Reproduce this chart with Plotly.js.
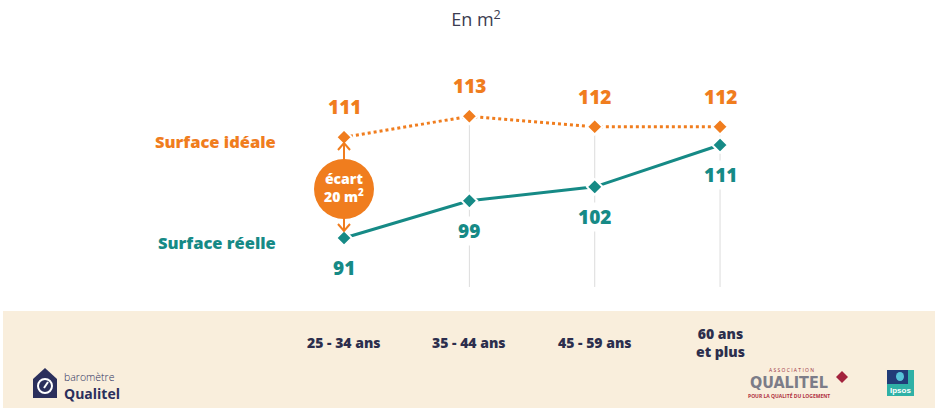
<!DOCTYPE html>
<html>
<head>
<meta charset="utf-8">
<script src="https://cdn.plot.ly/plotly-3.0.1.min.js"></script>
<style>html,body{margin:0;padding:0;background:#fff}#chart{width:935px;height:408px}</style>
</head>
<body>
<div id="chart"></div>
<script>
// ---- data ----
const categories = ['25 - 34 ans', '35 - 44 ans', '45 - 59 ans', '60 ans<br>et plus'];
const surfaceIdeale = [111, 113, 112, 112];
const surfaceReelle = [91, 99, 102, 111];
const seriesNames = ['Surface idéale', 'Surface réelle'];
const ecartText = 'écart<br>20 m<sup>2</sup>';

// ---- styles ----
const W = 935, H = 408;
const ORANGE = '#f07d1e', TEAL = '#168a86', NAVY = '#2c2e4d';
const BOLD = '"Open Sans", "Noto Sans", sans-serif';
const px = x => x / W;
const py = y => 1 - y / H;
function pathPx(pts, close) { return 'M ' + pts.map(p => px(p[0]) + ',' + py(p[1])).join(' L ') + (close === false ? '' : ' Z'); }

const traces = [
  { x: categories, y: surfaceIdeale, yaxis: 'y2', type: 'scatter', mode: 'lines+markers', name: seriesNames[0],
    line: { color: ORANGE, width: 3, dash: 'dot' },
    marker: { symbol: 'diamond', size: 12, color: ORANGE, line: { color: '#fff', width: 2 } }, hoverinfo: 'skip' },
  { x: categories, y: surfaceReelle, yaxis: 'y', type: 'scatter', mode: 'lines+markers', name: seriesNames[1],
    line: { color: TEAL, width: 3 },
    marker: { symbol: 'diamond', size: 12, color: TEAL, line: { color: '#fff', width: 2 } }, hoverinfo: 'skip' }
];

const shapes = [
  // beige footer band
  { type: 'rect', xref: 'paper', yref: 'paper', x0: px(3), x1: 1, y0: 0, y1: py(311), fillcolor: '#f9eedc', line: { width: 0 }, layer: 'below' }
];
// vertical guide lines from ideal marker down
categories.forEach((c, i) => {
  if (i === 0) return;
  shapes.push({ type: 'line', xref: 'x', yref: 'y2', x0: c, x1: c, y0: surfaceIdeale[i], y1: 96.74,
    line: { color: '#dcdcdc', width: 1 }, layer: 'below' });
});
// écart arrows (lines + open chevrons)
const AX = 344;
shapes.push({ type: 'line', xref: 'paper', yref: 'paper', x0: px(AX), x1: px(AX), y0: py(143), y1: py(162), line: { color: ORANGE, width: 2 } });
shapes.push({ type: 'path', xref: 'paper', yref: 'paper', path: pathPx([[AX - 6, 150], [AX, 143], [AX + 6, 150]], false), line: { color: ORANGE, width: 2 } });
shapes.push({ type: 'line', xref: 'paper', yref: 'paper', x0: px(AX), x1: px(AX), y0: py(216), y1: py(231), line: { color: ORANGE, width: 2 } });
shapes.push({ type: 'path', xref: 'paper', yref: 'paper', path: pathPx([[AX - 6, 224], [AX, 231], [AX + 6, 224]], false), line: { color: ORANGE, width: 2 } });
// écart circle
shapes.push({ type: 'circle', xref: 'paper', yref: 'paper', x0: px(314), x1: px(374), y0: py(219), y1: py(159),
  fillcolor: ORANGE, line: { width: 0 } });
// baromètre Qualitel icon
shapes.push({ type: 'path', xref: 'paper', yref: 'paper',
  path: pathPx([[33, 398], [33, 379], [45, 368], [57, 379], [57, 398]]), fillcolor: '#2b2f5c', line: { width: 0 } });
shapes.push({ type: 'circle', xref: 'paper', yref: 'paper', x0: px(38), x1: px(52), y0: py(393), y1: py(379),
  fillcolor: 'rgba(0,0,0,0)', line: { color: '#fff', width: 2 } });
shapes.push({ type: 'line', xref: 'paper', yref: 'paper', x0: px(44), x1: px(48), y0: py(388), y1: py(382),
  line: { color: '#fff', width: 2 } });
// Qualitel diamond
shapes.push({ type: 'path', xref: 'paper', yref: 'paper',
  path: pathPx([[842, 371], [848, 377], [842, 383], [836, 377]]), fillcolor: '#a3233d', line: { width: 0 } });
// Ipsos logo
shapes.push({ type: 'rect', xref: 'paper', yref: 'paper', x0: px(887), x1: px(914), y0: py(396), y1: py(370),
  fillcolor: '#2fb1a6', line: { width: 0 } });
shapes.push({ type: 'rect', xref: 'paper', yref: 'paper', x0: px(887), x1: px(908), y0: py(384), y1: py(370),
  fillcolor: '#213c78', line: { width: 0 } });
shapes.push({ type: 'circle', xref: 'paper', yref: 'paper', x0: px(896), x1: px(904), y0: py(381), y1: py(372),
  fillcolor: '#56c4d8', line: { width: 0 } });

const annotations = [];
function note(x, y, text, font, extra) {
  return Object.assign({ x: px(x), y: py(y), xref: 'paper', yref: 'paper', xanchor: 'center', yanchor: 'middle',
    showarrow: false, text: text, font: font }, extra || {});
}
// value labels and category labels
categories.forEach((c, i) => {
  annotations.push({ x: c, y: surfaceIdeale[i], xref: 'x', yref: 'y2', text: String(surfaceIdeale[i]), showarrow: false,
    yshift: 30, font: { family: BOLD, size: 19, color: ORANGE, weight: 800 } });
  annotations.push({ x: c, y: surfaceReelle[i], xref: 'x', yref: 'y', text: String(surfaceReelle[i]), showarrow: false,
    yshift: -30, bgcolor: '#fff', font: { family: BOLD, size: 19, color: TEAL, weight: 800 } });
  annotations.push({ x: c, y: py(342), xref: 'x', yref: 'paper', text: c, showarrow: false, yanchor: 'middle',
    font: { family: BOLD, size: 14, color: NAVY, weight: 800 } });
});
// series labels
annotations.push(note(278, 141, seriesNames[0], { family: BOLD, size: 16.5, color: ORANGE, weight: 800 }, { xanchor: 'right' }));
annotations.push(note(278, 242, seriesNames[1], { family: BOLD, size: 16.5, color: TEAL, weight: 800 }, { xanchor: 'right' }));
// écart text
annotations.push(note(344, 188, ecartText, { family: BOLD, size: 14, color: '#fff', weight: 800 }));
// logos text
annotations.push(note(62, 386, '<span style="font-size:10.5px;font-weight:300">baromètre</span><br><span style="font-weight:700">Qualitel</span>',
  { family: BOLD, size: 14, color: '#2b2f5c' }, { xanchor: 'left', align: 'left' }));
annotations.push(note(791, 370, 'A S S O C I A T I O N', { family: BOLD, size: 5, color: '#9b3040' }));
annotations.push(note(789, 382, 'QUALITEL', { family: '"DejaVu Sans Condensed", "Liberation Sans Narrow", sans-serif', size: 16, color: '#7c7c88', weight: 700 }));
annotations.push(note(789, 395.5, 'POUR LA QUALITÉ DU LOGEMENT', { family: BOLD, size: 5, color: '#b0303f', weight: 700 }));
annotations.push(note(900, 390, 'Ipsos', { family: '"Liberation Sans Narrow", sans-serif', size: 8, color: '#fff', weight: 700 }));

const layout = {
  width: W, height: H,
  margin: { l: 0, r: 0, t: 0, b: 0 },
  paper_bgcolor: '#fff', plot_bgcolor: 'rgba(0,0,0,0)',
  showlegend: false,
  title: { text: 'En m<sup>2</sup>', x: px(476), xanchor: 'center', y: py(20), yanchor: 'middle',
    font: { family: '"Open Sans", sans-serif', size: 18, color: '#3b3c50' } },
  xaxis: { type: 'category', range: [-2.745, 4.715], showgrid: false, zeroline: false, showline: false,
    showticklabels: false, ticks: '', fixedrange: true },
  yaxis: { domain: [py(287), py(100)], range: [80.46, 120.68], visible: false, fixedrange: true },
  yaxis2: { domain: [py(287), py(100)], overlaying: 'y', range: [96.738, 114.548], visible: false, fixedrange: true },
  shapes: shapes,
  annotations: annotations
};

Plotly.newPlot('chart', traces, layout, { displayModeBar: false, staticPlot: true });
</script>
</body>
</html>
